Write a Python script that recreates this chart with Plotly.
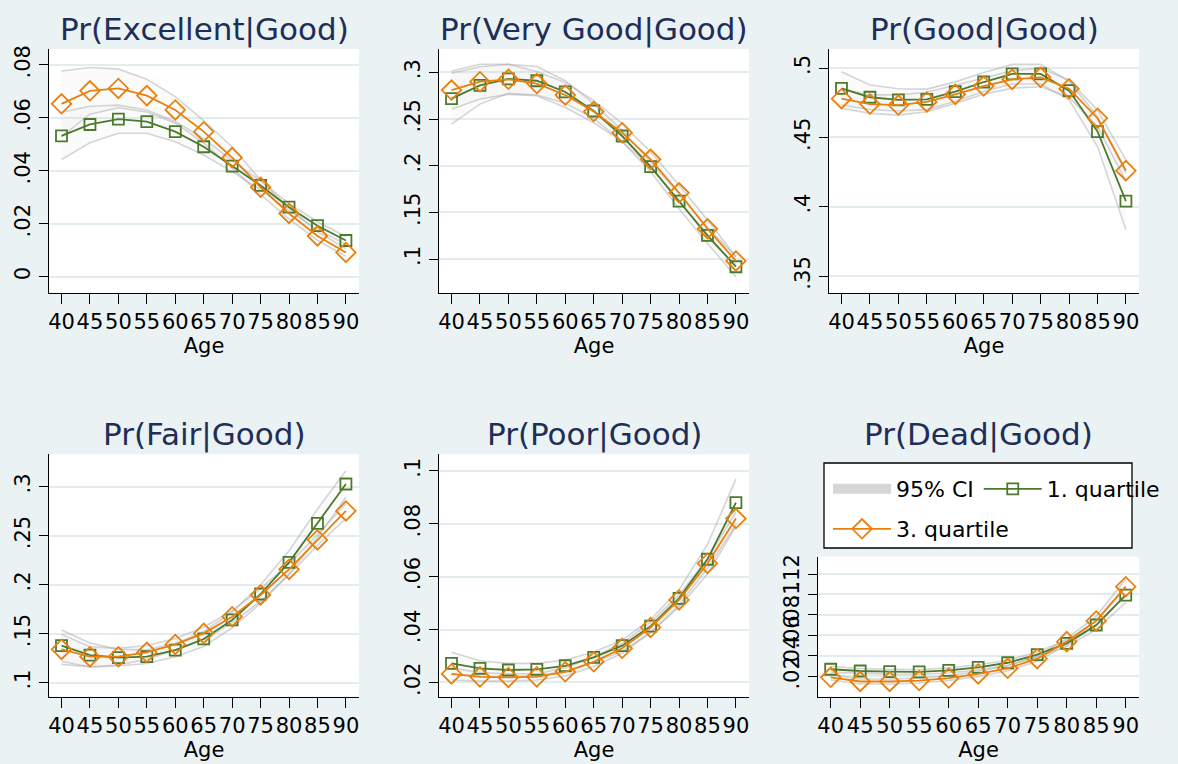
import plotly.graph_objects as go

# ---------------- data ----------------
ages = [40, 45, 50, 55, 60, 65, 70, 75, 80, 85, 90]
age_tick_labels = ["40", "45", "50", "55", "60", "65", "70", "75", "80", "85", "90"]

panel_titles = ["Pr(Excellent|Good)", "Pr(Very Good|Good)", "Pr(Good|Good)",
                "Pr(Fair|Good)", "Pr(Poor|Good)", "Pr(Dead|Good)"]

# Excellent
exc_q1 = [0.0532, 0.0575, 0.0595, 0.0586, 0.0548, 0.0491, 0.0418, 0.0345, 0.0263, 0.0193, 0.0137]
exc_q3 = [0.0653, 0.0702, 0.0711, 0.0684, 0.0630, 0.0548, 0.0450, 0.0338, 0.0239, 0.0154, 0.0092]
exc_q1_lo = [0.0443, 0.0506, 0.0542, 0.0542, 0.0510, 0.0460, 0.0397, 0.0328, 0.0250, 0.0178, 0.0122]
exc_q1_hi = [0.0621, 0.0644, 0.0648, 0.0630, 0.0586, 0.0522, 0.0439, 0.0362, 0.0276, 0.0208, 0.0152]
exc_q3_lo = [0.0529, 0.0614, 0.0638, 0.0622, 0.0580, 0.0506, 0.0410, 0.0311, 0.0218, 0.0138, 0.0077]
exc_q3_hi = [0.0777, 0.0790, 0.0784, 0.0746, 0.0680, 0.0590, 0.0490, 0.0365, 0.0260, 0.0170, 0.0107]

# Very Good
vg_q1 = [0.2718, 0.2860, 0.2930, 0.2910, 0.2790, 0.2586, 0.2318, 0.1990, 0.1620, 0.1254, 0.0918]
vg_q3 = [0.2810, 0.2900, 0.2925, 0.2880, 0.2757, 0.2580, 0.2354, 0.2068, 0.1710, 0.1325, 0.0980]
vg_q1_lo = [0.2446, 0.2660, 0.2775, 0.2757, 0.2670, 0.2507, 0.2257, 0.1936, 0.1540, 0.1168, 0.0810]
vg_q1_hi = [0.2990, 0.3060, 0.3085, 0.3063, 0.2910, 0.2665, 0.2379, 0.2044, 0.1700, 0.1340, 0.1026]
vg_q3_lo = [0.2606, 0.2714, 0.2764, 0.2750, 0.2624, 0.2460, 0.2258, 0.1986, 0.1630, 0.1230, 0.0935]
vg_q3_hi = [0.3014, 0.3086, 0.3086, 0.3010, 0.2890, 0.2700, 0.2450, 0.2150, 0.1790, 0.1420, 0.1025]

# Good
gd_q1 = [0.4853, 0.4789, 0.4770, 0.4774, 0.4830, 0.4899, 0.4957, 0.4957, 0.4837, 0.4542, 0.4040]
gd_q3 = [0.4779, 0.4740, 0.4733, 0.4755, 0.4810, 0.4870, 0.4918, 0.4933, 0.4851, 0.4638, 0.4260]
gd_q1_lo = [0.4733, 0.4700, 0.4690, 0.4700, 0.4760, 0.4830, 0.4885, 0.4885, 0.4770, 0.4434, 0.3834]
gd_q1_hi = [0.4973, 0.4878, 0.4850, 0.4848, 0.4900, 0.4968, 0.5026, 0.5026, 0.4905, 0.4650, 0.4246]
gd_q3_lo = [0.4710, 0.4673, 0.4660, 0.4685, 0.4745, 0.4810, 0.4855, 0.4865, 0.4790, 0.4578, 0.4182]
gd_q3_hi = [0.4848, 0.4807, 0.4806, 0.4825, 0.4875, 0.4930, 0.4980, 0.5000, 0.4912, 0.4698, 0.4338]

# Fair
fr_q1 = [0.1378, 0.1282, 0.1255, 0.1265, 0.1333, 0.1446, 0.1640, 0.1905, 0.2228, 0.2626, 0.3027]
fr_q3 = [0.1340, 0.1265, 0.1265, 0.1310, 0.1390, 0.1503, 0.1673, 0.1895, 0.2156, 0.2456, 0.2752]
fr_q1_lo = [0.1219, 0.1160, 0.1170, 0.1195, 0.1265, 0.1370, 0.1560, 0.1810, 0.2110, 0.2480, 0.2891]
fr_q1_hi = [0.1537, 0.1404, 0.1340, 0.1335, 0.1400, 0.1522, 0.1720, 0.2000, 0.2346, 0.2772, 0.3163]
fr_q3_lo = [0.1187, 0.1163, 0.1180, 0.1240, 0.1330, 0.1440, 0.1610, 0.1830, 0.2100, 0.2400, 0.2677]
fr_q3_hi = [0.1493, 0.1367, 0.1350, 0.1380, 0.1450, 0.1566, 0.1736, 0.1960, 0.2212, 0.2512, 0.2827]

# Poor
pr_q1 = [0.0272, 0.0253, 0.0247, 0.0249, 0.0263, 0.0295, 0.0339, 0.0413, 0.0518, 0.0666, 0.0880]
pr_q3 = [0.0232, 0.0221, 0.0219, 0.0221, 0.0240, 0.0278, 0.0329, 0.0408, 0.0512, 0.0650, 0.0820]
pr_q1_lo = [0.0230, 0.0224, 0.0222, 0.0226, 0.0241, 0.0275, 0.0318, 0.0388, 0.0485, 0.0610, 0.0790]
pr_q1_hi = [0.0314, 0.0282, 0.0272, 0.0272, 0.0285, 0.0315, 0.0360, 0.0438, 0.0551, 0.0722, 0.0970]
pr_q3_lo = [0.0209, 0.0205, 0.0205, 0.0209, 0.0224, 0.0260, 0.0310, 0.0389, 0.0493, 0.0632, 0.0796]
pr_q3_hi = [0.0255, 0.0237, 0.0233, 0.0233, 0.0256, 0.0296, 0.0348, 0.0427, 0.0531, 0.0668, 0.0844]

# Dead
dd_q1 = [0.0266, 0.0249, 0.0242, 0.0240, 0.0255, 0.0285, 0.0330, 0.0410, 0.0520, 0.0700, 0.0994]
dd_q3 = [0.0187, 0.0146, 0.0146, 0.0155, 0.0180, 0.0220, 0.0275, 0.0370, 0.0537, 0.0740, 0.1076]
dd_q1_lo = [0.0236, 0.0224, 0.0218, 0.0216, 0.0230, 0.0260, 0.0305, 0.0385, 0.0490, 0.0655, 0.0920]
dd_q1_hi = [0.0296, 0.0274, 0.0266, 0.0264, 0.0280, 0.0310, 0.0355, 0.0435, 0.0550, 0.0745, 0.1068]
dd_q3_lo = [0.0160, 0.0122, 0.0122, 0.0131, 0.0155, 0.0195, 0.0250, 0.0345, 0.0505, 0.0695, 0.1000]
dd_q3_hi = [0.0214, 0.0170, 0.0170, 0.0179, 0.0205, 0.0245, 0.0300, 0.0395, 0.0569, 0.0785, 0.1152]

# y tick values / labels per panel
ytick_vals = [
    [0, 0.02, 0.04, 0.06, 0.08],
    [0.1, 0.15, 0.2, 0.25, 0.3],
    [0.35, 0.4, 0.45, 0.5],
    [0.1, 0.15, 0.2, 0.25, 0.3],
    [0.02, 0.04, 0.06, 0.08, 0.1],
    [0.02, 0.04, 0.06, 0.08, 0.1, 0.12],
]
ytick_text = [
    ["0", ".02", ".04", ".06", ".08"],
    [".1", ".15", ".2", ".25", ".3"],
    [".35", ".4", ".45", ".5"],
    [".1", ".15", ".2", ".25", ".3"],
    [".02", ".04", ".06", ".08", ".1"],
    [".02", ".04", ".06", ".08", ".1", ".12"],
]

series = [
    (exc_q1, exc_q3, exc_q1_lo, exc_q1_hi, exc_q3_lo, exc_q3_hi),
    (vg_q1, vg_q3, vg_q1_lo, vg_q1_hi, vg_q3_lo, vg_q3_hi),
    (gd_q1, gd_q3, gd_q1_lo, gd_q1_hi, gd_q3_lo, gd_q3_hi),
    (fr_q1, fr_q3, fr_q1_lo, fr_q1_hi, fr_q3_lo, fr_q3_hi),
    (pr_q1, pr_q3, pr_q1_lo, pr_q1_hi, pr_q3_lo, pr_q3_hi),
    (dd_q1, dd_q3, dd_q1_lo, dd_q1_hi, dd_q3_lo, dd_q3_hi),
]

# ---------------- layout / style ----------------
W, H = 1178, 764
FONT = "DejaVu Sans, Liberation Sans, Arial, sans-serif"
BG = "#eaf2f3"
GRID = "#e3ecef"
GREEN = "#4c7a2c"
ORANGE = "#e8800e"
TITLE_C = "#1e2e58"
CI_LINE = "rgba(165,165,165,0.45)"
CI_FILL = "rgba(200,200,200,0.07)"

# plot-area boxes in pixels (left, right, top, bottom)
boxes = [
    (49, 359, 49, 292.7),
    (439, 749, 49, 292.7),
    (829, 1139, 49, 292.7),
    (49, 359, 454.3, 696.7),
    (439, 749, 454.3, 696.7),
    (817.7, 1139.3, 556.7, 696.7),
]
yranges = [
    [-0.006, 0.086],
    [0.064, 0.325],
    [0.338, 0.5137],
    [0.0857, 0.333],
    [0.0146, 0.1063],
    [-0.0003, 0.137],
]
title_y_px = [29, 29, 29, 435, 435, 435]

fig = go.Figure()

for i, (q1, q3, q1lo, q1hi, q3lo, q3hi) in enumerate(series):
    n = i + 1
    xa = "x" if n == 1 else f"x{n}"
    ya = "y" if n == 1 else f"y{n}"
    # CI bands
    for lo, hi in ((q1lo, q1hi), (q3lo, q3hi)):
        fig.add_trace(go.Scatter(x=ages, y=hi, mode="lines", xaxis=xa, yaxis=ya,
                                 line=dict(color=CI_LINE, width=1.6), showlegend=False,
                                 hoverinfo="skip"))
        fig.add_trace(go.Scatter(x=ages, y=lo, mode="lines", xaxis=xa, yaxis=ya,
                                 line=dict(color=CI_LINE, width=1.6), fill="tonexty",
                                 fillcolor=CI_FILL, showlegend=False, hoverinfo="skip"))
    fig.add_trace(go.Scatter(x=ages, y=q1, mode="lines+markers", xaxis=xa, yaxis=ya,
                             name="1. quartile", legend="legend", legendrank=2,
                             showlegend=(n == 1),
                             line=dict(color=GREEN, width=1.8),
                             marker=dict(symbol="square-open", size=11, color=GREEN,
                                         line=dict(width=1.8, color=GREEN))))
    fig.add_trace(go.Scatter(x=ages, y=q3, mode="lines+markers", xaxis=xa, yaxis=ya,
                             name="3. quartile", legend="legend2", legendrank=3,
                             showlegend=(n == 1),
                             line=dict(color=ORANGE, width=1.8),
                             marker=dict(symbol="diamond-open", size=15, color=ORANGE,
                                         line=dict(width=1.8, color=ORANGE))))

# legend-only swatch for the CI
fig.add_trace(go.Scatter(x=[None], y=[None], mode="lines", name="95% CI",
                         legend="legend", legendrank=1,
                         line=dict(color="#d6d6d6", width=25), showlegend=True))

leg_common = dict(orientation="h", bgcolor="rgba(0,0,0,0)", borderwidth=0,
                  font=dict(size=22, family=FONT, color="black"), itemwidth=58,
                  xanchor="left", yanchor="top", traceorder="normal")

layout = dict(
    width=W, height=H,
    paper_bgcolor=BG, plot_bgcolor="white",
    margin=dict(l=0, r=0, t=0, b=0, autoexpand=False),
    font=dict(family=FONT, size=21, color="black"),
    showlegend=True,
    legend=dict(x=828 / W, y=1 - 468 / H, **leg_common),
    legend2=dict(x=828 / W, y=1 - 508 / H, **leg_common),
    shapes=[dict(type="rect", xref="paper", yref="paper",
                 x0=824 / W, x1=1132 / W, y0=1 - 548 / H, y1=1 - 463 / H,
                 fillcolor="white", line=dict(color="black", width=1.3), layer="below")],
    annotations=[],
)

for i, (l, r, t, b) in enumerate(boxes):
    n = i + 1
    xk = "xaxis" if n == 1 else f"xaxis{n}"
    yk = "yaxis" if n == 1 else f"yaxis{n}"
    ya = "y" if n == 1 else f"y{n}"
    xa = "x" if n == 1 else f"x{n}"
    layout[xk] = dict(
        domain=[l / W, r / W], anchor=ya, range=[37.8, 92.3],
        tickvals=ages, ticktext=age_tick_labels, tickangle=0,
        showgrid=False, zeroline=False,
        showline=True, linecolor="black", linewidth=1.3,
        ticks="outside", ticklen=10, tickwidth=1.3, tickcolor="black",
        tickfont=dict(size=21, family=FONT),
        title=dict(text="Age", font=dict(size=21, family=FONT), standoff=0),
    )
    layout[yk] = dict(
        domain=[1 - b / H, 1 - t / H], anchor=xa, range=yranges[i],
        tickvals=ytick_vals[i], ticktext=ytick_text[i], tickangle=-90,
        showgrid=True, gridcolor=GRID, gridwidth=1.6, zeroline=False,
        showline=True, linecolor="black", linewidth=1.3,
        ticks="outside", ticklen=9, tickwidth=1.3, tickcolor="black",
        tickfont=dict(size=21, family=FONT),
    )
    layout["annotations"].append(dict(
        text=panel_titles[i], xref="paper", yref="paper",
        x=(l + r) / 2 / W, y=1 - title_y_px[i] / H, xanchor="center", yanchor="middle",
        showarrow=False, font=dict(size=31, family=FONT, color=TITLE_C)))

fig.update_layout(**layout)
fig.write_html(
    "out.html",
    config={"displayModeBar": False},
    post_script="document.body.style.margin='0';document.body.style.overflow='hidden';",
)
